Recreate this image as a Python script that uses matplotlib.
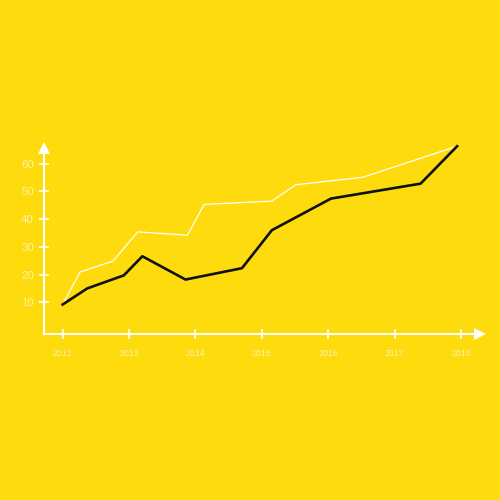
import matplotlib
matplotlib.use("Agg")
import matplotlib.pyplot as plt

# data
years_white = [2012.0, 2012.26, 2012.76, 2013.13, 2013.88, 2014.13, 2015.15, 2015.51, 2016.52, 2017.94]
vals_white = [9.2, 20.9, 24.9, 35.4, 34.2, 45.3, 46.5, 52.4, 55.1, 66.3]
years_black = [2012.0, 2012.37, 2012.92, 2013.2, 2013.85, 2014.70, 2015.15, 2016.04, 2017.39, 2017.94]
vals_black = [9.2, 15.0, 19.7, 26.6, 18.2, 22.3, 36.0, 47.4, 52.8, 66.3]
x_ticks = [2012, 2013, 2014, 2015, 2016, 2017, 2018]
x_labels = ["2012", "2013", "2014", "2015", "2016", "2017", "2018"]
y_ticks = [10, 20, 30, 40, 50, 60]
y_labels = ["10", "20", "30", "40", "50", "60"]

BG = "#FDDB0C"
LABEL = "#FEF2AE"
plt.rcParams['font.family'] = ['Liberation Sans', 'DejaVu Sans']

fig = plt.figure(figsize=(5, 5), dpi=100, facecolor=BG)
ax = fig.add_axes([0, 0, 1, 1], facecolor=BG)
ax.set_xlim(2011.056, 2018.586)
ax.set_ylim(-61.33, 119.05)

ax.plot(years_white, vals_white, color="white", lw=0.9, zorder=3)
ax.plot(years_black, vals_black, color="#111111", lw=1.9, zorder=4)

x0 = 2011.718
y0 = -1.44
for s in ["top", "right"]:
    ax.spines[s].set_visible(False)
ax.spines["left"].set_position(("data", x0))
ax.spines["bottom"].set_position(("data", y0))
ax.spines["left"].set_bounds(y0, 63.5)
ax.spines["bottom"].set_bounds(x0, 2018.21)
for s in ["left", "bottom"]:
    ax.spines[s].set_color("white")
    ax.spines[s].set_linewidth(1.5)

# arrow heads
ax.plot([x0], [65.7], marker="^", markersize=8.5, color="white", mew=0, clip_on=False, zorder=5)
ax.plot([2018.29], [y0], marker=">", markersize=8.5, color="white", mew=0, clip_on=False, zorder=5)

ax.set_xticks(x_ticks)
ax.set_xticklabels(x_labels)
ax.set_yticks(y_ticks)
ax.set_yticklabels(y_labels)
ax.tick_params(axis="x", direction="inout", length=6.5, width=1.2, color="white",
               labelcolor=LABEL, labelsize=6.3, pad=7.3)
ax.tick_params(axis="y", direction="inout", length=6.5, width=1.2, color="white",
               labelcolor=LABEL, labelsize=8.2, pad=4)

fig.savefig("out.png", dpi=100, facecolor=BG)
